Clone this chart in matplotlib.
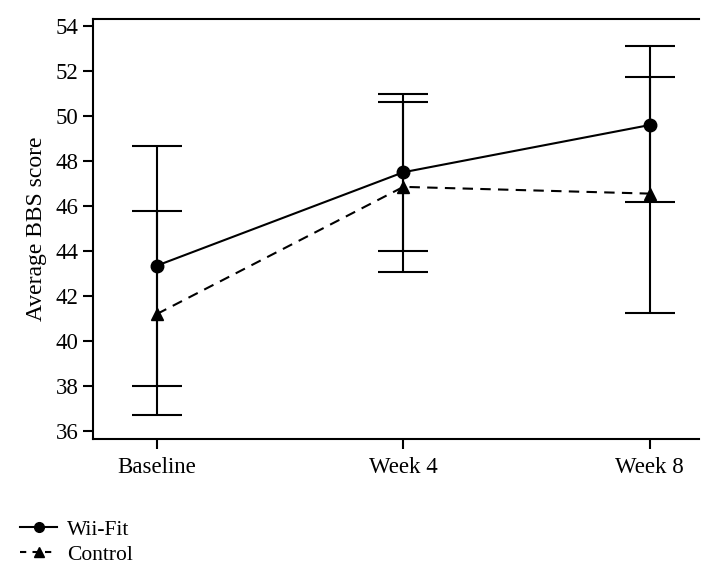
import matplotlib
matplotlib.use("Agg")
import matplotlib.pyplot as plt
from matplotlib.lines import Line2D

# values
timepoints = ["Baseline", "Week 4", "Week 8"]
wii_mean = [43.35, 47.5, 49.6]
wii_low = [38.0, 44.0, 46.18]
wii_high = [48.68, 51.0, 53.11]
ctrl_mean = [41.2, 46.85, 46.55]
ctrl_low = [36.71, 43.08, 41.26]
ctrl_high = [45.79, 50.64, 51.75]
yticks = [36, 38, 40, 42, 44, 46, 48, 50, 52, 54]

plt.rcParams['font.family'] = ['Liberation Serif', 'DejaVu Serif']

fig = plt.figure(figsize=(7.04, 5.64), dpi=100)
ax = fig.add_axes([0.132, 0.2216, 0.861, 0.7446])

x = list(range(len(timepoints)))

def err(mean, low, high):
    return [[m - l for m, l in zip(mean, low)], [h - m for m, h in zip(mean, high)]]

ax.errorbar(x, wii_mean, yerr=err(wii_mean, wii_low, wii_high), color='black',
            lw=1.5, marker='o', ms=9, capsize=18, capthick=1.5, elinewidth=1.5,
            zorder=3)
ax.errorbar(x, ctrl_mean, yerr=err(ctrl_mean, ctrl_low, ctrl_high), color='black',
            lw=1.5, marker='^', ms=9, capsize=18, capthick=1.5, elinewidth=1.5,
            dashes=(5, 3.5), zorder=3)

ax.set_xlim(-0.26, 2.2)
ax.set_ylim(35.64, 54.31)
ax.set_xticks(x)
ax.set_xticklabels(timepoints)
ax.set_yticks(yticks)
ax.tick_params(labelsize=16.5, length=7, width=1.5, direction='out', colors='black')
ax.tick_params(axis='x', pad=6)
ax.set_ylabel("Average BBS score", fontsize=17, labelpad=6)

ax.spines['right'].set_visible(False)
for s in ['left', 'bottom', 'top']:
    ax.spines[s].set_linewidth(1.5)

handles = [Line2D([], [], color='black', lw=1.5, marker='o', ms=7),
           Line2D([], [], color='black', lw=1.5, marker='^', ms=7, dashes=(3, 3))]
fig.legend(handles, ["Wii-Fit", "Control"], loc='upper left',
           bbox_to_anchor=(0.028, 0.079), frameon=False, fontsize=15.5,
           handlelength=1.75, handletextpad=0.45, labelspacing=0.25,
           borderaxespad=0, borderpad=0)

fig.savefig("out.png", dpi=100)
